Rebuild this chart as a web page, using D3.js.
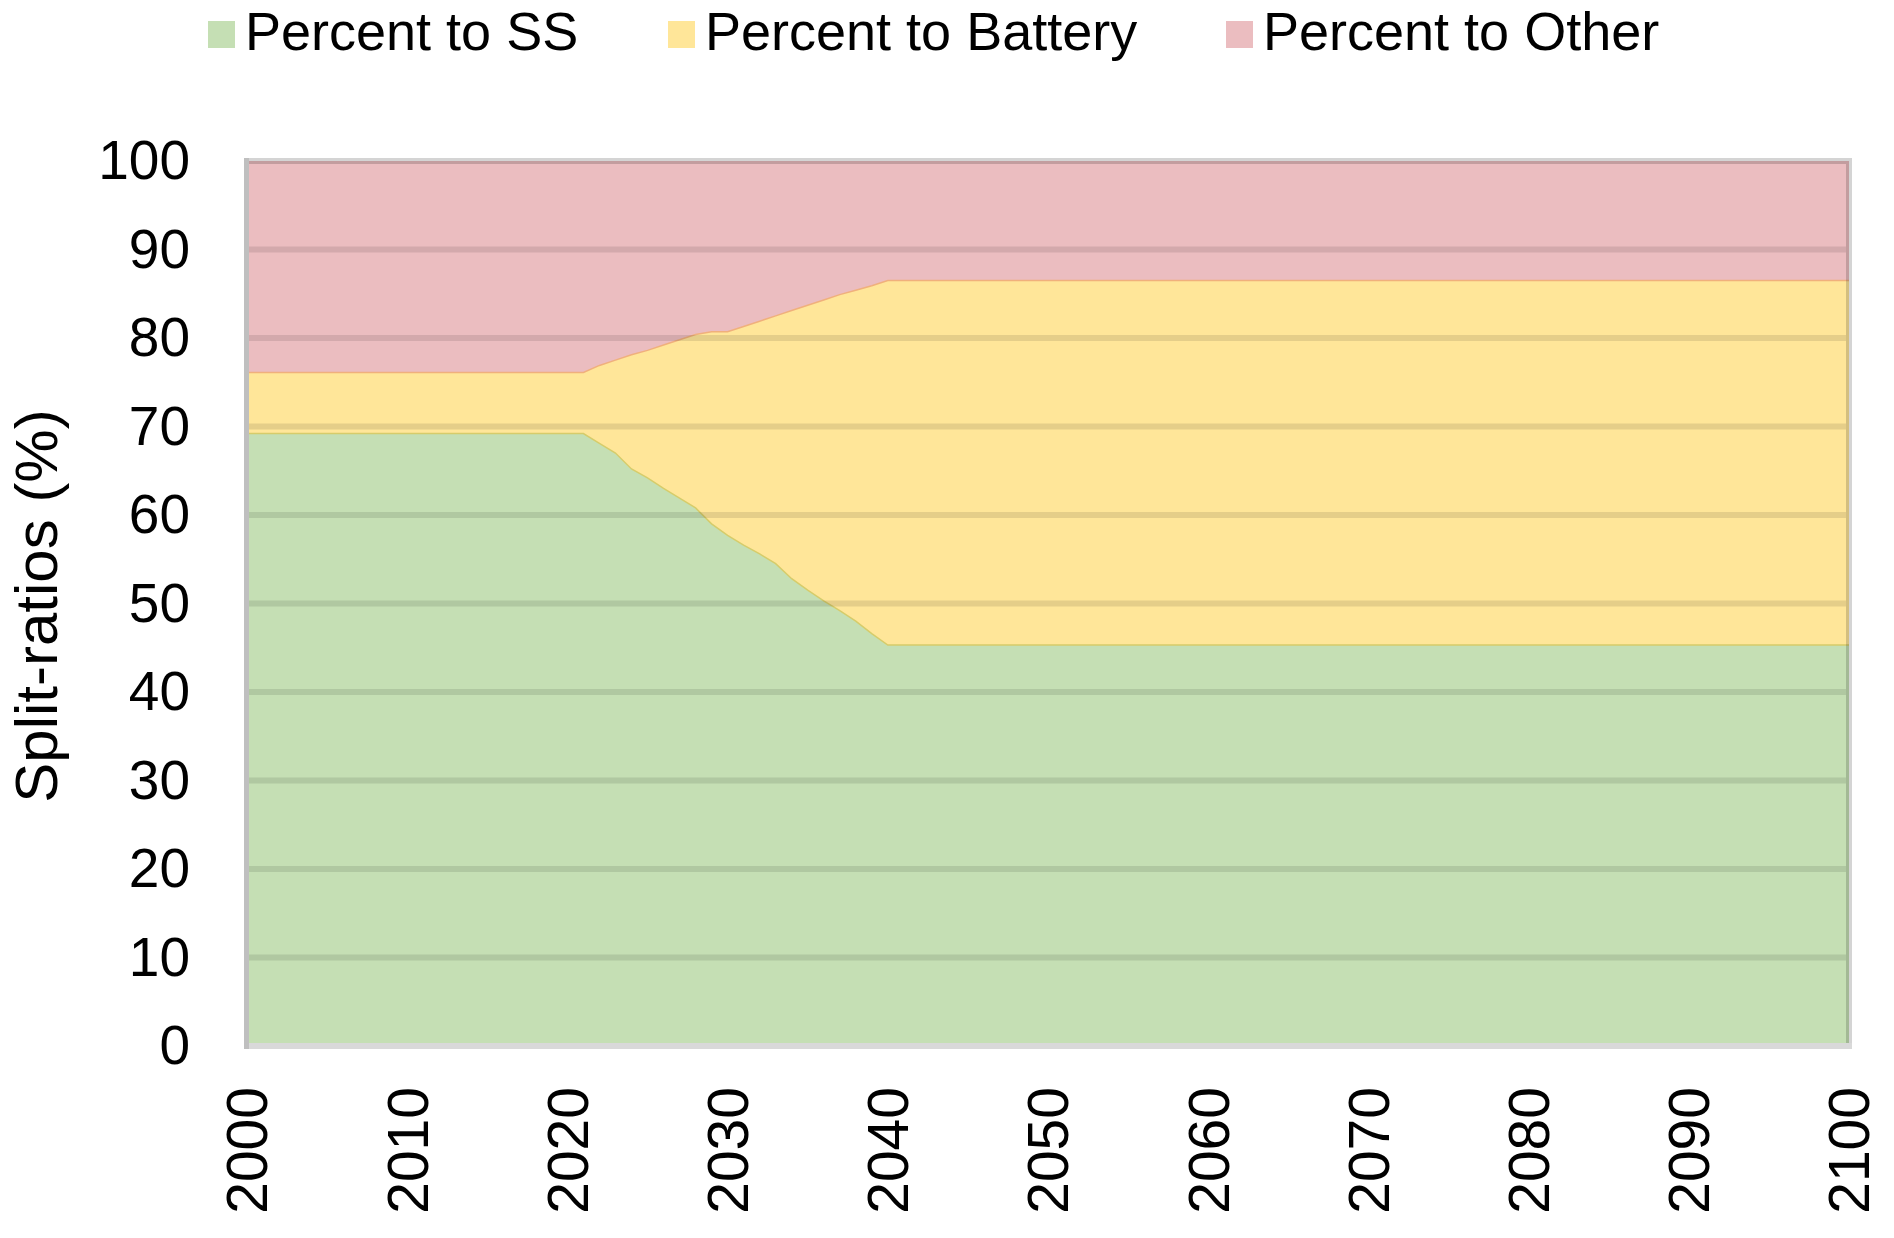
<!DOCTYPE html>
<html>
<head>
<meta charset="utf-8">
<script src="https://cdn.jsdelivr.net/npm/d3@7"></script>
<style>
  body { margin: 0; background: #fff; }
  text { font-family: "Liberation Sans", Arial, sans-serif; fill: #000; }
</style>
</head>
<body>
<div id="chart"></div>
<script>
// years where the split ratios change (linear in between)
const years = [2000, 2021, 2022, 2023, 2024, 2025, 2026, 2027, 2028, 2029, 2030,
  2031, 2032, 2033, 2034, 2035, 2036, 2037, 2038, 2039, 2040, 2100];
const percentSS = [69.2, 69.2, 68.1, 67.0, 65.2, 64.2, 63.0, 61.9, 60.8, 59.0, 57.7,
  56.6, 55.6, 54.5, 52.8, 51.5, 50.3, 49.2, 48.0, 46.6, 45.3, 45.3];
const percentBattery = [6.9, 6.9, 8.8, 10.5, 12.9, 14.4, 16.2, 17.9, 19.6, 21.7, 23.0,
  24.7, 26.3, 28.0, 30.3, 32.2, 34.0, 35.7, 37.4, 39.3, 41.2, 41.2];
const percentOther = [23.9, 23.9, 23.1, 22.5, 21.9, 21.4, 20.8, 20.2, 19.6, 19.3, 19.3,
  18.7, 18.1, 17.5, 16.9, 16.3, 15.7, 15.1, 14.6, 14.1, 13.5, 13.5];
const seriesNames = ["Percent to SS", "Percent to Battery", "Percent to Other"];
const xTicks = [2000, 2010, 2020, 2030, 2040, 2050, 2060, 2070, 2080, 2090, 2100];
const yTicks = [0, 10, 20, 30, 40, 50, 60, 70, 80, 90, 100];

const keys = ["ss", "battery", "other"];
const colors = ["#c5dfb4", "#ffe699", "#ebbdc0"];
const edgeColors = ["#d6cc6a", "#f0b07c"];

const rows = years.map((yr, i) => ({
  year: yr,
  ss: percentSS[i],
  battery: percentBattery[i],
  other: percentOther[i],
}));

const cfg = {
  width: 1894,
  height: 1238,
  left: 247,
  right: 1849,
  top: 161,
  bottom: 1046,
};

const svg = d3.select("#chart").append("svg")
  .attr("width", cfg.width)
  .attr("height", cfg.height);

const x = d3.scaleLinear().domain([2000, 2100]).range([cfg.left, cfg.right]);
const y = d3.scaleLinear().domain([0, 100]).range([cfg.bottom, cfg.top]);

const stacked = d3.stack().keys(keys)(rows);

const area = d3.area()
  .x(d => x(d.data.year))
  .y0(d => y(d[0]))
  .y1(d => y(d[1]));

svg.append("g")
  .selectAll("path")
  .data(stacked)
  .join("path")
  .attr("fill", (d, i) => colors[i])
  .attr("d", area);

// thin boundary lines along the top of each layer
const topLine = d3.line()
  .x(d => x(d.data.year))
  .y(d => y(d[1]));

svg.append("g")
  .selectAll("path")
  .data(stacked.slice(0, 2))
  .join("path")
  .attr("fill", "none")
  .attr("stroke", (d, i) => edgeColors[i])
  .attr("stroke-width", 1.5)
  .attr("d", topLine);

// gridlines (drawn over the fills, darkening them)
svg.append("g")
  .selectAll("line")
  .data(yTicks.filter(t => t > 0))
  .join("line")
  .attr("x1", cfg.left + 2)
  .attr("x2", cfg.right - 3)
  .attr("y1", d => y(d))
  .attr("y2", d => y(d))
  .attr("stroke", "#000")
  .attr("stroke-opacity", d => (d === 100 ? 0.17 : 0.1))
  .attr("stroke-width", 6);

// darker right edge of the areas
svg.append("line")
  .attr("x1", cfg.right)
  .attr("x2", cfg.right)
  .attr("y1", cfg.top - 3)
  .attr("y2", cfg.bottom)
  .attr("stroke", "#000")
  .attr("stroke-opacity", 0.17)
  .attr("stroke-width", 6);

// axes
const xAxis = d3.axisBottom(x).tickValues(xTicks).tickSize(0).tickFormat(d3.format("d"));
const yAxis = d3.axisLeft(y).tickValues(yTicks).tickSize(0);

const xAxisG = svg.append("g")
  .attr("transform", `translate(0,${cfg.bottom})`)
  .call(xAxis);
xAxisG.select(".domain").remove();
xAxisG.selectAll("text")
  .attr("transform", "rotate(-90)")
  .attr("x", -41)
  .attr("y", 0)
  .attr("dy", "0.35em")
  .style("text-anchor", "end")
  .style("font-size", "57px")
  .style("font-family", "'Liberation Sans', Arial, sans-serif")
  .attr("fill", "#000");

const yAxisG = svg.append("g")
  .attr("transform", `translate(${cfg.left},0)`)
  .call(yAxis);
yAxisG.select(".domain").remove();
yAxisG.selectAll("text")
  .attr("x", -57)
  .attr("dy", "0.32em")
  .style("font-size", "55px")
  .style("font-family", "'Liberation Sans', Arial, sans-serif")
  .attr("fill", "#000");

svg.append("line")
  .attr("x1", cfg.left - 3)
  .attr("x2", cfg.right + 3)
  .attr("y1", cfg.bottom)
  .attr("y2", cfg.bottom)
  .attr("stroke", "#d9d9d9")
  .attr("stroke-width", 6);

svg.append("line")
  .attr("x1", cfg.left - 0.5)
  .attr("x2", cfg.left - 0.5)
  .attr("y1", cfg.top - 3)
  .attr("y2", cfg.bottom + 3)
  .attr("stroke", "#bfbfbf")
  .attr("stroke-width", 5);

// y axis title
svg.append("text")
  .attr("transform", "translate(57,606) rotate(-90)")
  .attr("text-anchor", "middle")
  .style("font-size", "60px")
  .text("Split-ratios (%)");

// legend
const legendX = [208, 668, 1226];
const legend = svg.append("g")
  .selectAll("g")
  .data(seriesNames)
  .join("g")
  .attr("transform", (d, i) => `translate(${legendX[i]},0)`);

legend.append("rect")
  .attr("x", 0)
  .attr("y", 21)
  .attr("width", 27)
  .attr("height", 27)
  .attr("fill", (d, i) => colors[i]);

legend.append("text")
  .attr("x", 37)
  .attr("y", 50)
  .style("font-size", "54px")
  .text(d => d);
</script>
</body>
</html>
